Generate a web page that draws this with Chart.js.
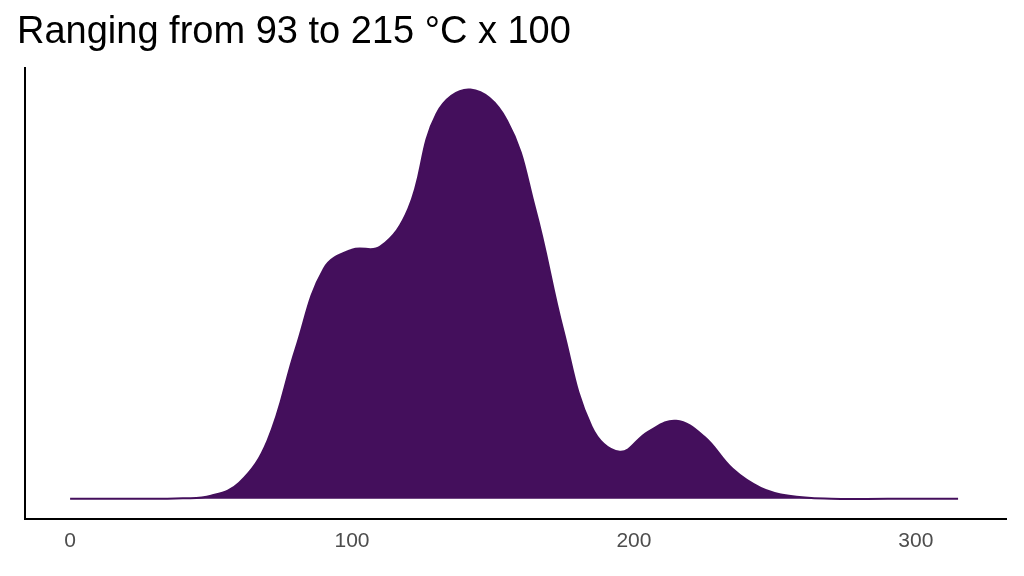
<!DOCTYPE html><html><head><script src="https://cdn.jsdelivr.net/npm/chart.js"></script>
<style>body{margin:0;background:#fff}</style></head><body>
<canvas id="c" width="1024" height="576"></canvas>
<script>
const xs=[0,20,40,50,60,70,80,90,100,110,120,130,142,155,165,175,185,195,205,215,225,235,245,255,270,290,315];
const dens=[0,0,0.5,3,16,58,150,230,249,252,290,385,409,378,290,168,72,47,67,78,62,30,11,3,0,0,0];
const ticksX=[0,100,200,300];
new Chart(document.getElementById('c'),{type:'line',
data:{datasets:[{data:xs.map((x,i)=>({x,y:dens[i]})),fill:'origin',backgroundColor:'#440f5c',borderColor:'#440f5c',borderWidth:2,pointRadius:0,tension:0.4}]},
options:{responsive:false,animation:false,layout:{padding:{left:17,right:18,top:0,bottom:18}},
plugins:{legend:{display:false},tooltip:{enabled:false},title:{display:true,text:'Ranging from 93 to 215 °C x 100',align:'start',color:'#000',font:{family:'Liberation Sans',size:38,weight:'normal'},padding:{top:10,bottom:12}}},
scales:{x:{type:'linear',min:-16,max:332,afterBuildTicks:a=>{a.ticks=ticksX.map(v=>({value:v}))},grid:{display:false,drawTicks:true,tickLength:6,tickColor:'#333'},border:{color:'#000',width:2},ticks:{color:'#4d4d4d',font:{family:'Liberation Sans',size:21},padding:4}},
y:{min:-20,max:431,grid:{display:false},border:{color:'#000',width:2},ticks:{display:false}}}}});
</script></body></html>
